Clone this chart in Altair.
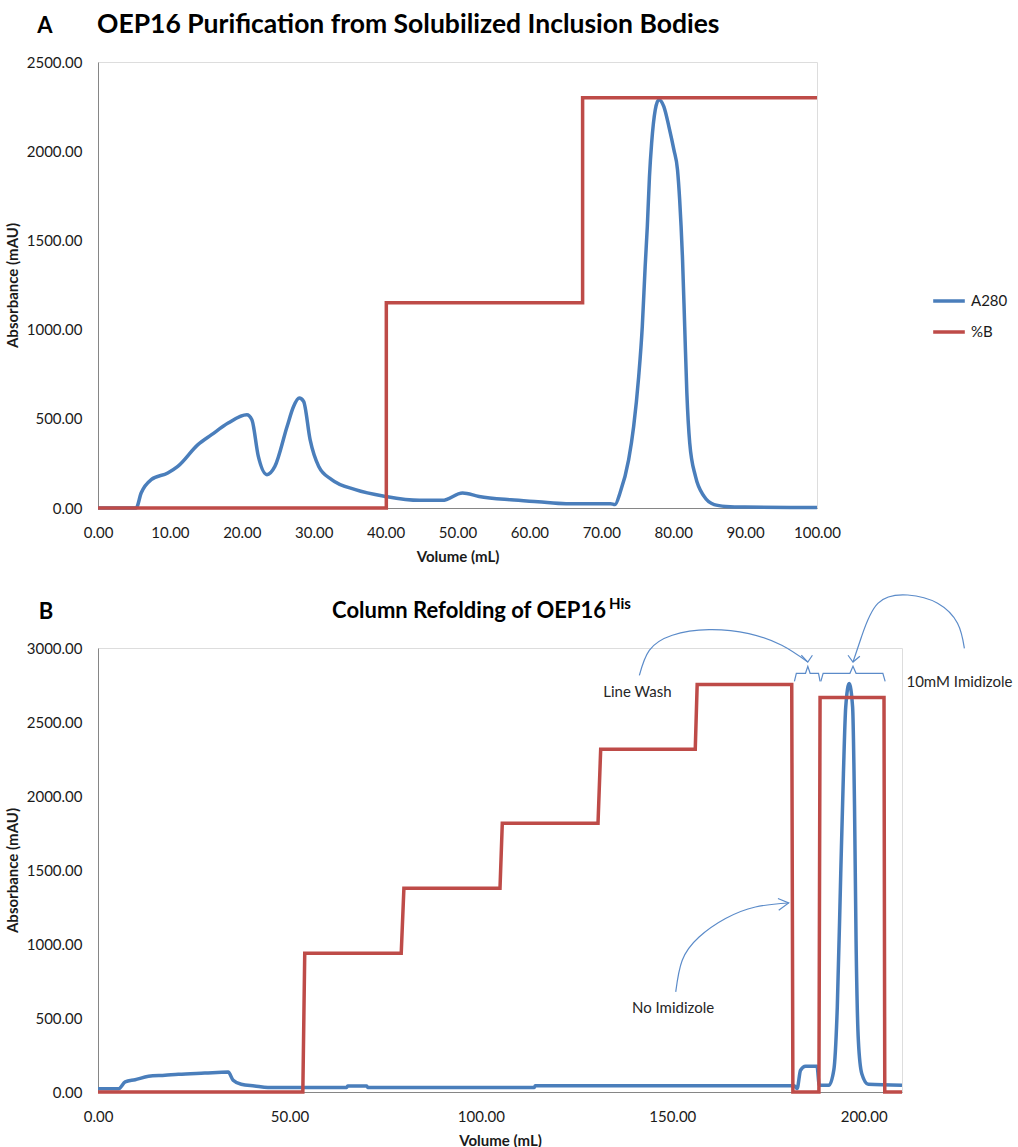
import altair as alt
import pandas as pd

BLUE = "#4a7ebb"
RED = "#be4b48"
FONT = "Lato"
TXT = "#1a1a1a"

# ---------------- Panel A data ----------------
a_vol = [0, 5.3, 6.0, 7.4, 9.7, 11.1, 13.9, 15.8, 18.1, 20.7, 21.4, 22.3, 23.5, 24.6,
         26.3, 27.2, 28.0, 28.6, 29.5, 30.7, 32.5, 35.8, 40.0, 44.7, 47.9, 50.7, 53.0,
         57.4, 61.2, 65.1, 71.3, 71.9, 72.6, 73.8, 74.5, 75.2, 75.7, 76.1, 76.4, 76.7,
         77.0, 77.5, 78.0, 78.7, 79.4, 80.1, 80.6, 80.9, 81.3, 81.6, 81.9, 82.3, 83.1,
         84.3, 85.7, 87.3, 90.0, 100.0]
a_a280 = [0, 0, 84, 159, 196, 233, 355, 411, 476, 523, 495, 289, 187, 233,
          457, 569, 616, 597, 383, 233, 159, 103, 65, 43, 43, 84, 65,
          46, 35, 24, 24, 19, 84, 270, 457, 737, 1017, 1353, 1578, 1858,
          2045, 2231, 2288, 2250, 2138, 2007, 1895, 1727, 1391, 1017, 644, 364, 177,
          65, 19, 9, 5, 3]
a_b_vol = [0, 40.1, 40.1, 67.4, 67.4, 100]
a_b = [0, 0, 1150, 1150, 2300, 2300]
a_xticks = [0, 10, 20, 30, 40, 50, 60, 70, 80, 90, 100]
a_yticks = [0, 500, 1000, 1500, 2000, 2500]

# ---------------- Panel B data ----------------
b_vol = [0, 5.4, 7.1, 9.7, 13.2, 17.5, 21.0, 27.9, 34.0, 35.3,
         37.4, 40.9, 44.4, 65.0, 65.2, 70.2, 70.4, 114.0, 114.2, 181.8,
         182.6, 183.5, 184.8, 187.8, 188.4, 190.9, 192.2, 193.1, 194.0, 194.7,
         195.3, 196.2, 197.1, 197.6, 198.0, 198.6, 199.5, 201.2, 210]
b_a280 = [22, 22, 68, 83, 106, 113, 120, 128, 135, 79,
          52, 41, 31, 31, 40, 40, 31, 31, 43, 43,
          23, 147, 174, 174, 45, 45, 150, 574, 1476, 2151,
          2601, 2760, 2601, 1926, 1025, 349, 124, 52, 45]
b_b_vol = [0, 53.5, 54.0, 79.2, 79.9, 105.0, 105.6, 130.6, 131.3, 156.0, 156.5,
           181.2, 181.5, 188.3, 188.6, 205.3, 205.5, 210]
b_b = [0, 0, 937, 937, 1376, 1376, 1816, 1816, 2316, 2316, 2753,
       2753, 0, 0, 2665, 2665, 0, 0]
b_xticks = [0, 50, 100, 150, 200]
b_yticks = [0, 500, 1000, 1500, 2000, 2500, 3000]

# annotations (in data units: volume mL, mAU)
arc_wash_vol = [141.4, 144.0, 150.0, 159.6, 170.0, 178.6, 185.4]
arc_wash_mau = [2815, 2984, 3086, 3124, 3097, 3018, 2905]
arc_imid_vol = [226.3, 224.5, 219.3, 211.5, 203.7, 199.4, 197.2]
arc_imid_mau = [2998, 3167, 3302, 3358, 3302, 3074, 2905]
arc_noim_vol = [150.9, 152.6, 157.0, 163.9, 171.7, 180.4]
arc_noim_mau = [676, 890, 1047, 1172, 1250, 1277]
head_wash_vol = [183.7, 185.4, 186.6]
head_wash_mau = [2951, 2905, 2951]
head_imid_vol = [195.9, 197.2, 199.0]
head_imid_mau = [2951, 2905, 2944]
head_noim_vol = [177.6, 180.4, 177.8]
head_noim_mau = [1307, 1277, 1228]
brace1_vol = [181.9, 182.4, 184.8, 185.4, 186.0, 188.2, 188.6]
brace2_vol = [188.8, 189.4, 196.4, 197.2, 198.0, 205.0, 205.6]
brace_mau = [2775, 2829, 2829, 2876, 2829, 2829, 2775]
note_text = ["Line Wash", "10mM Imidizole", "No Imidizole"]
note_vol = [140.9, 225.0, 150.2]
note_mau = [2704, 2770, 569]

SERIES = ["A280", "%B"]


def series_df(vol, val, name):
    return pd.DataFrame({"vol": vol, "mau": val, "series": name, "i": range(len(vol))})


def shapes_df(parts):
    rows = []
    for g, (vs, ms) in parts.items():
        for k, (v, m) in enumerate(zip(vs, ms)):
            rows.append({"g": g, "i": k, "vol": v, "mau": m})
    return pd.DataFrame(rows)


def axis_x(values, title):
    return alt.Axis(values=values, format=".2f", title=title, grid=False, ticks=False,
                    domainColor="#868686", labelFont=FONT, labelFontSize=15, labelColor=TXT,
                    labelPadding=17, titleFont=FONT, titleFontSize=15, titleFontWeight="bold",
                    titleColor=TXT, titlePadding=9, labelFlush=False)


def axis_y(values, title):
    return alt.Axis(values=values, format=".2f", title=title, grid=False, ticks=False,
                    domainColor="#868686", labelFont=FONT, labelFontSize=15, labelColor=TXT,
                    labelPadding=16, titleFont=FONT, titleFontSize=15, titleFontWeight="bold",
                    titleColor=TXT, titlePadding=6, labelFlush=False)


def color_enc(legend):
    return alt.Color("series:N", scale=alt.Scale(domain=SERIES, range=[BLUE, RED]), legend=legend)


# ---------------- Panel A chart ----------------
xA = alt.X("vol:Q", scale=alt.Scale(domain=[0, 100], nice=False, zero=False),
           axis=axis_x(a_xticks, "Volume (mL)"))
yA = alt.Y("mau:Q", scale=alt.Scale(domain=[0, 2500], nice=False),
           axis=axis_y(a_yticks, "Absorbance (mAU)"))
legA = alt.Legend(title=None, orient="none", legendX=833, legendY=221, symbolType="stroke",
                  symbolStrokeWidth=3.5, symbolSize=1000, labelFont=FONT, labelFontSize=15,
                  labelColor=TXT, labelOffset=4, rowPadding=5, padding=0)

a_blue = alt.Chart(series_df(a_vol, a_a280, "A280")).mark_line(
    strokeWidth=3.5, interpolate="monotone").encode(
    x=xA, y=yA, color=color_enc(legA), order="i:Q")
a_red = alt.Chart(series_df(a_b_vol, a_b, "%B")).mark_line(strokeWidth=3.5).encode(
    x=xA, y=yA, color=color_enc(legA), order="i:Q")
a_letter = alt.Chart(pd.DataFrame({"t": ["A"]})).mark_text(
    font=FONT, fontSize=22, fontWeight="bold", color="black", align="center",
    baseline="alphabetic").encode(x=alt.value(-53), y=alt.value(-29), text="t:N")
a_title = alt.Chart(pd.DataFrame({"t": ["OEP16 Purification from Solubilized Inclusion Bodies"]})).mark_text(
    font=FONT, fontSize=26.5, fontWeight="bold", color="black", align="left",
    baseline="alphabetic").encode(x=alt.value(-1), y=alt.value(-29), text="t:N")

top = alt.layer(a_blue, a_red, a_letter, a_title).properties(width=719, height=446)

# ---------------- Panel B chart ----------------
xB = alt.X("vol:Q", scale=alt.Scale(domain=[0, 210], nice=False, zero=False),
           axis=axis_x(b_xticks, "Volume (mL)"))
yB = alt.Y("mau:Q", scale=alt.Scale(domain=[0, 3000], nice=False),
           axis=axis_y(b_yticks, "Absorbance (mAU)"))

b_blue = alt.Chart(series_df(b_vol, b_a280, "A280")).mark_line(
    strokeWidth=3.5, interpolate="monotone").encode(
    x=xB, y=yB, color=color_enc(None), order="i:Q")
b_red = alt.Chart(series_df(b_b_vol, b_b, "%B")).mark_line(strokeWidth=3.5).encode(
    x=xB, y=yB, color=color_enc(None), order="i:Q")

arcs = alt.Chart(shapes_df({"wash": (arc_wash_vol, arc_wash_mau),
                            "imid": (arc_imid_vol, arc_imid_mau),
                            "noim": (arc_noim_vol, arc_noim_mau)})).mark_line(
    interpolate="natural", strokeWidth=1.2, color="#5b8bc9").encode(
    x=xB, y=yB, detail="g:N", order="i:Q")
pieces = alt.Chart(shapes_df({"h1": (head_wash_vol, head_wash_mau),
                              "h2": (head_imid_vol, head_imid_mau),
                              "h3": (head_noim_vol, head_noim_mau),
                              "b1": (brace1_vol, brace_mau),
                              "b2": (brace2_vol, brace_mau)})).mark_line(
    strokeWidth=1.2, color="#5b8bc9").encode(x=xB, y=yB, detail="g:N", order="i:Q")
notes = alt.Chart(pd.DataFrame({"vol": note_vol, "mau": note_mau, "t": note_text})).mark_text(
    font=FONT, fontSize=15, color="#262626", align="center", baseline="middle").encode(
    x=xB, y=yB, text="t:N")

b_letter = alt.Chart(pd.DataFrame({"t": ["B"]})).mark_text(
    font=FONT, fontSize=22, fontWeight="bold", color="black", align="center",
    baseline="alphabetic").encode(x=alt.value(-52), y=alt.value(-29), text="t:N")
b_title = alt.Chart(pd.DataFrame({"t": ["Column Refolding of OEP16"]})).mark_text(
    font=FONT, fontSize=22, fontWeight="bold", color="black", align="right",
    baseline="alphabetic").encode(x=alt.value(508), y=alt.value(-30), text="t:N")
b_sup = alt.Chart(pd.DataFrame({"t": ["His"]})).mark_text(
    font=FONT, fontSize=15, fontWeight="bold", color="black", align="left",
    baseline="alphabetic").encode(x=alt.value(511), y=alt.value(-39), text="t:N")

bottom = alt.layer(b_blue, b_red, arcs, pieces, notes, b_letter, b_title, b_sup).properties(
    width=804, height=444)

chart = alt.concat(top, bottom, columns=1, spacing=26, align="none").resolve_scale(
    color="independent", x="independent", y="independent"
).properties(padding={"left": 4, "top": 11, "right": 0, "bottom": 0}).configure_view(
    stroke=None).configure(background="white")

chart.save("out.html", embed_options={"renderer": "svg", "actions": False})
